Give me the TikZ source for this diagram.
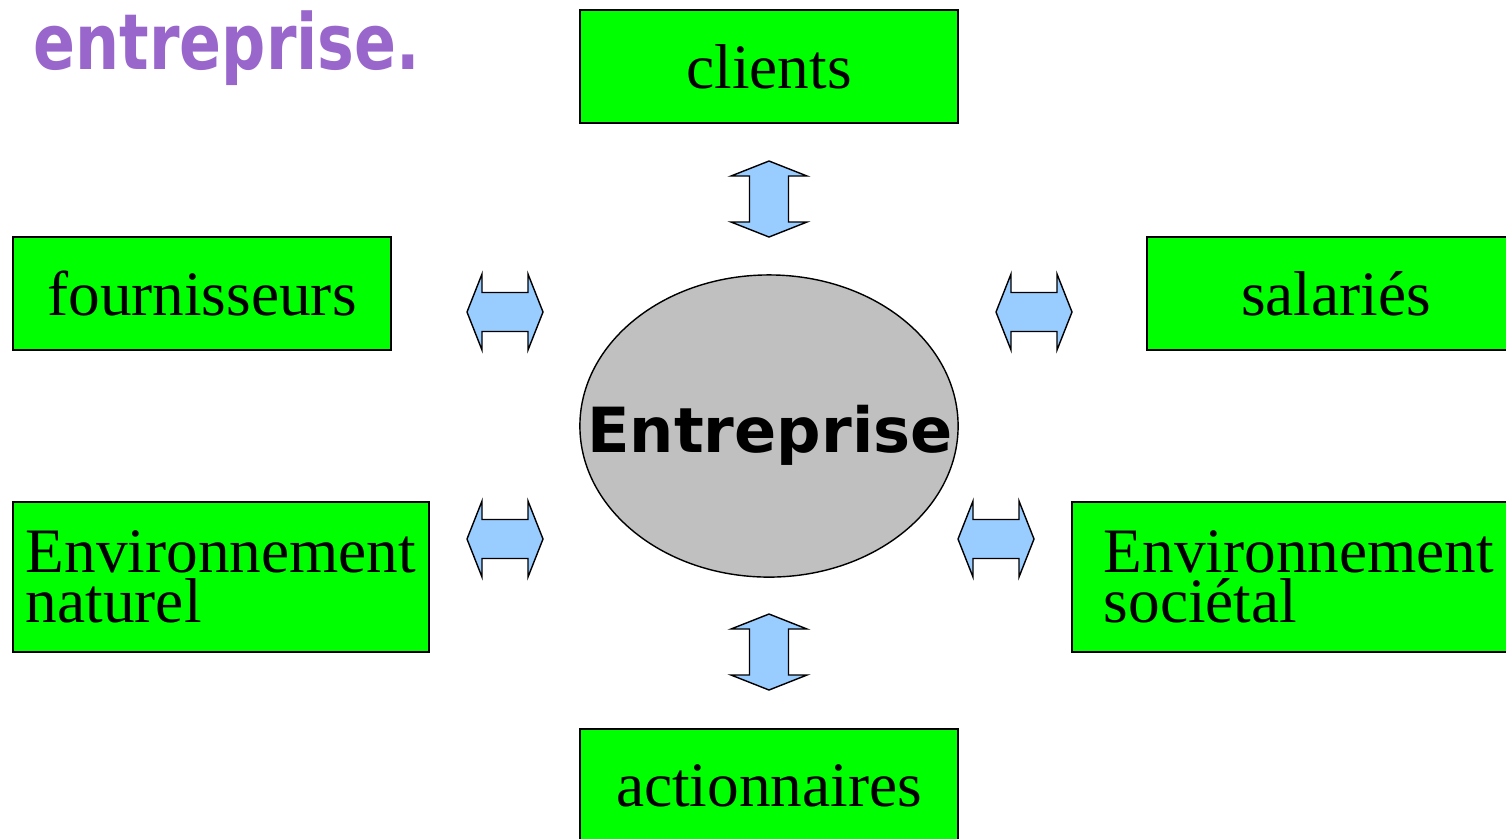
\documentclass[tikz,border=0pt]{standalone}
\usepackage{fontspec}
\setmainfont{Liberation Serif}
\newfontfamily\firmfont{DejaVu Sans}
\newfontfamily\titlefont[FakeStretch=0.8]{DejaVu Sans}
\usetikzlibrary{shapes.geometric}

\definecolor{boxgreen}{HTML}{00FF00}
\definecolor{arrowblue}{HTML}{99CCFF}
\definecolor{firmgray}{HTML}{C0C0C0}
\definecolor{titlepurple}{HTML}{9966CC}

\tikzset{
  partner/.style={draw=black, line width=0.4pt, fill=boxgreen,
    minimum width=3.78cm, minimum height=1.13cm, inner sep=0pt,
    font=\fontsize{18}{14.2}\selectfont},
  flow/.style={draw=black, line width=0.4pt, fill=arrowblue},
  pics/dblarrow/.style={code={
    \draw[flow] (-38,0) -- (-23,-38) -- (-23,-19.5) -- (23,-19.5) -- (23,-38)
      -- (38,0) -- (23,38) -- (23,19.5) -- (-23,19.5) -- (-23,38) -- cycle;
  }}
}

\begin{document}
\begin{tikzpicture}[x=0.01cm, y=-0.01cm]
  \useasboundingbox (0,0) rectangle (1506,838);

  % Marking title
  \node [anchor=base west, inner sep=0pt, text=titlepurple,
    font=\titlefont\bfseries\fontsize{22}{26}\selectfont] (title) at (33,69) {entreprise.};

  % Drawing partner boxes
  \node [partner] (clients) at (769,66.5) {clients};
  \node [partner] (fournisseurs) at (202,293.5) {fournisseurs};
  \node [partner] (salaries) at (1336,293.5) {salariés};
  \node [partner, minimum width=4.16cm, minimum height=1.5cm, align=left]
    (naturel) at (221,577) {Environnement\\naturel};
  \node [partner, minimum width=4.54cm, minimum height=1.5cm, align=left]
    (societal) at (1299,577) {Environnement\\sociétal};
  \node [partner] (actionnaires) at (769,785.5) {actionnaires};

  % Drawing the firm
  \node [ellipse, draw=black, line width=0.4pt, fill=firmgray, inner sep=0pt,
    minimum width=3.78cm, minimum height=3.02cm] (firm) at (769,426) {};
  \node [anchor=base, inner sep=0pt,
    font=\firmfont\bfseries\fontsize{17.7}{20}\selectfont] (firmlabel) at (770,452) {Entreprise};

  % Drawing exchange arrows
  \pic [rotate=90] at (769,199) {dblarrow};
  \pic [rotate=90] at (769,652) {dblarrow};
  \pic at (505,312) {dblarrow};
  \pic at (1034,312) {dblarrow};
  \pic at (505,539) {dblarrow};
  \pic at (996,539) {dblarrow};
\end{tikzpicture}
\end{document}
